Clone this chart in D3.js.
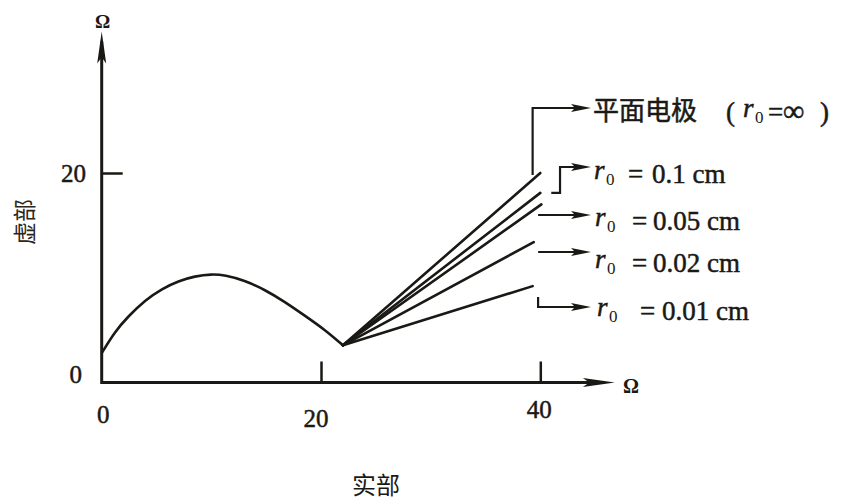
<!DOCTYPE html>
<html>
<head>
<meta charset="utf-8">
<script src="https://cdn.jsdelivr.net/npm/d3@7"></script>
<style>
  html, body { margin: 0; padding: 0; background: #ffffff; }
  svg { display: block; }
  text.thick { stroke: #1b1915; stroke-width: 0.5px; }
</style>
</head>
<body>
<svg id="chart" width="846" height="500"></svg>
<script>
// ---- data ----
const arcPoints = [
  [0, 2.8], [1.2, 4.85], [2.4, 6.3], [4, 7.9], [5.5, 8.95], [7, 9.7], [8.5, 10.15],
  [10, 10.35], [11.25, 10.25], [13, 9.75], [14.9, 8.85], [16.7, 7.7], [18.5, 6.4],
  [20.4, 5.0], [22, 3.55]
];
const vertex = [22, 3.55];
const seriesNames = ["plane", "0.1", "0.05", "0.02", "0.01"];
const seriesEndX = [40.0, 40.0, 40.1, 39.4, 39.3];
const seriesEndY = [20.0, 18.1, 17.0, 13.4, 9.2];
const xTicks = [0, 20, 40];
const yTicks = [0, 20];
const legendValues = ["0.1 cm", "0.05 cm", "0.02 cm", "0.01 cm"];

// ---- scales ----
const x = d3.scaleLinear().domain([0, 40]).range([101.7, 540.3]);
const y = d3.scaleLinear().domain([0, 20]).range([382.5, 173]);

const svg = d3.select("#chart");
const ink = "#1b1915";
const serif = "'Liberation Serif', 'DejaVu Serif', serif";
const cjk = "'Noto Sans CJK SC', 'Noto Sans', sans-serif";

function arrowHead(g, tipX, tipY, dir, len, half) {
  let pts;
  if (dir === "right") pts = [[tipX, tipY], [tipX - len, tipY - half], [tipX - len * 0.8, tipY], [tipX - len, tipY + half]];
  else pts = [[tipX, tipY], [tipX - half, tipY + len], [tipX, tipY + len * 0.8], [tipX + half, tipY + len]];
  g.append("path").attr("d", "M" + pts.map(p => p.join(",")).join("L") + "Z").attr("fill", ink);
}

// ---- axes ----
const axes = svg.append("g");
const xAxisEnd = 46.8, yAxisEnd = 33.5;
axes.append("line").attr("x1", x(0)).attr("x2", x(xAxisEnd) - 10).attr("y1", y(0)).attr("y2", y(0))
  .attr("stroke", ink).attr("stroke-width", 3);
arrowHead(axes, x(xAxisEnd), y(0), "right", 32, 4.5);
axes.append("line").attr("x1", x(0)).attr("x2", x(0)).attr("y1", y(0) + 1.5).attr("y2", y(yAxisEnd) + 10)
  .attr("stroke", ink).attr("stroke-width", 3);
arrowHead(axes, x(0), y(yAxisEnd), "up", 32, 4.5);

const xAxisG = svg.append("g").attr("transform", `translate(0,${y(0)})`)
  .call(d3.axisBottom(x).tickValues(xTicks.filter(d => d !== 0)).tickSizeInner(-21).tickSizeOuter(0).tickFormat(""));
xAxisG.select(".domain").remove();
xAxisG.selectAll(".tick line").attr("stroke", ink).attr("stroke-width", 2.5);

const yAxisG = svg.append("g").attr("transform", `translate(${x(0)},0)`)
  .call(d3.axisLeft(y).tickValues(yTicks.filter(d => d !== 0)).tickSizeInner(-21).tickSizeOuter(0).tickFormat(""));
yAxisG.select(".domain").remove();
yAxisG.selectAll(".tick line").attr("stroke", ink).attr("stroke-width", 2.5);

// tick labels
const xLabelOffsets = { 0: [1.5, 423], 20: [-5, 427], 40: [-1, 418] };
svg.append("g").selectAll("text").data(xTicks).join("text").attr("class", "thick")
  .attr("x", d => x(d) + xLabelOffsets[d][0]).attr("y", d => xLabelOffsets[d][1])
  .attr("text-anchor", "middle").attr("font-family", serif).attr("font-size", 25).attr("fill", ink)
  .text(d => d);
const yLabelPos = { 0: [82, 383], 20: [86, 182] };
svg.append("g").selectAll("text").data(yTicks).join("text").attr("class", "thick")
  .attr("x", d => yLabelPos[d][0]).attr("y", d => yLabelPos[d][1])
  .attr("text-anchor", "end").attr("font-family", serif).attr("font-size", 25).attr("fill", ink)
  .text(d => d);

// unit labels
svg.append("text").attr("x", x(0) + 1).attr("y", 28).attr("text-anchor", "middle")
  .attr("font-family", serif).attr("font-size", 19).attr("font-weight", "bold").attr("fill", ink).text("Ω");
svg.append("text").attr("x", 631).attr("y", 393).attr("text-anchor", "middle")
  .attr("font-family", serif).attr("font-size", 20).attr("font-weight", "bold").attr("fill", ink).text("Ω");

// axis titles
svg.append("text").attr("transform", "translate(33,222) rotate(-90)").attr("text-anchor", "middle")
  .attr("font-family", cjk).attr("font-size", 23).attr("fill", "#2a2620").text("虚部");
svg.append("text").attr("x", 376).attr("y", 494).attr("text-anchor", "middle")
  .attr("font-family", cjk).attr("font-size", 24).attr("fill", ink).text("实部");

// ---- curves ----
const line = d3.line().x(d => x(d[0])).y(d => y(d[1])).curve(d3.curveBasis);
svg.append("path").datum(arcPoints).attr("d", line).attr("fill", "none")
  .attr("stroke", ink).attr("stroke-width", 2.6);

const straight = d3.line().x(d => x(d[0])).y(d => y(d[1]));
svg.append("g").selectAll("path").data(seriesNames).join("path")
  .attr("d", (d, i) => straight([vertex, [seriesEndX[i], seriesEndY[i]]]))
  .attr("fill", "none").attr("stroke", ink).attr("stroke-width", 2.6).attr("stroke-linecap", "round");

// ---- annotation leaders ----
const lead = svg.append("g").attr("fill", "none").attr("stroke", ink).attr("stroke-width", 2.2);
const tipX = 591;
const pLx = x(39.3);
lead.append("path").attr("d", `M${pLx},${y(seriesEndY[0]) + 2}V108H${tipX - 12}`);
arrowHead(svg, tipX, 108, "right", 20, 4);
lead.append("path").attr("d", `M${x(41.0)},${y(seriesEndY[1])}H${x(41.8)}V167H${tipX - 12}`);
arrowHead(svg, tipX, 167, "right", 20, 4);
lead.append("path").attr("d", `M${x(39.8)},215H${tipX - 12}`);
arrowHead(svg, tipX, 215, "right", 20, 4);
lead.append("path").attr("d", `M${x(39.8)},252H${tipX - 12}`);
arrowHead(svg, tipX, 252, "right", 20, 4);
lead.append("path").attr("d", `M${x(39.8)},297V307H${tipX - 12}`);
arrowHead(svg, tipX, 307, "right", 20, 4);

// ---- legend texts ----
const leg = svg.append("g").attr("font-family", serif).attr("fill", ink);
const legBase = [183, 230, 272, 320];
const legEqX = [628, 632, 632, 640];
const legValX = [652, 653, 653, 662];
const legRX = [594, 595, 595, 597];
legendValues.forEach((v, i) => {
  leg.append("text").attr("class", "thick").attr("x", legRX[i]).attr("y", legBase[i] - 4).attr("font-size", 27)
    .attr("font-style", "italic").text("r");
  leg.append("text").attr("x", legRX[i] + 12).attr("y", legBase[i] + 2).attr("font-size", 17).text("0");
  leg.append("text").attr("class", "thick").attr("x", legEqX[i]).attr("y", legBase[i]).attr("font-size", 27).text("=");
  leg.append("text").attr("class", "thick").attr("x", legValX[i]).attr("y", legBase[i]).attr("font-size", 27).text(v);
});
leg.append("text").attr("class", "thick").attr("x", 593).attr("y", 120).attr("font-family", cjk).attr("font-size", 26).text("平面电极");
leg.append("text").attr("class", "thick").attr("x", 726).attr("y", 121).attr("font-size", 27).text("(");
leg.append("text").attr("class", "thick").attr("x", 743).attr("y", 117).attr("font-size", 27).attr("font-style", "italic").text("r");
leg.append("text").attr("x", 755).attr("y", 123).attr("font-size", 17).text("0");
leg.append("text").attr("class", "thick").attr("x", 768).attr("y", 121).attr("font-size", 27).text("=");
leg.append("text").attr("class", "thick").attr("x", 783).attr("y", 121).attr("font-size", 30).text("∞");
leg.append("text").attr("class", "thick").attr("x", 820).attr("y", 121).attr("font-size", 27).text(")");
</script>
</body>
</html>
